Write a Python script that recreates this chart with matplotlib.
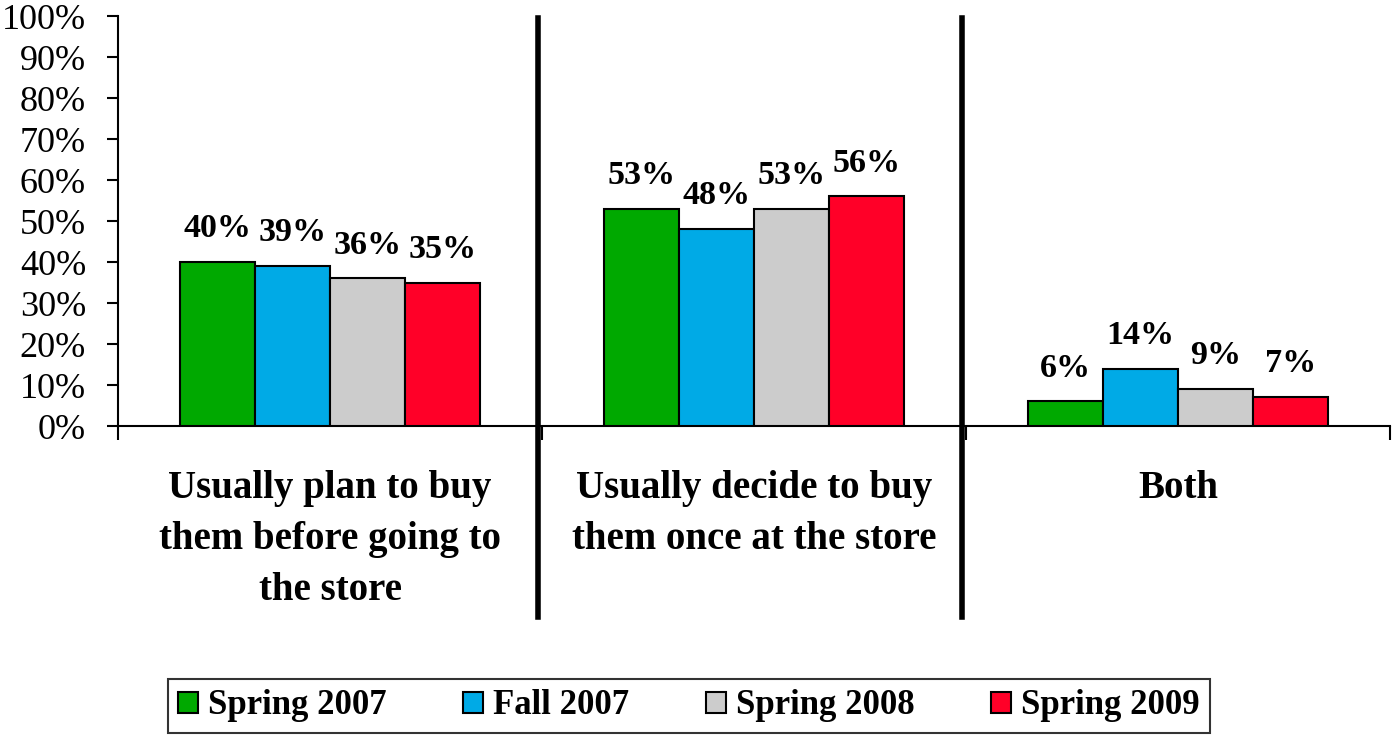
import numpy as np
import matplotlib
matplotlib.use("Agg")
import matplotlib.pyplot as plt
from matplotlib.lines import Line2D

plt.rcParams['font.family'] = ['Liberation Serif', 'DejaVu Serif']

categories = ["Usually plan to buy\nthem before going to\nthe store",
              "Usually decide to buy\nthem once at the store",
              "Both"]
series_names = ["Spring 2007", "Fall 2007", "Spring 2008", "Spring 2009"]
spring_2007 = [40, 53, 6]
fall_2007 = [39, 48, 14]
spring_2008 = [36, 53, 9]
spring_2009 = [35, 56, 7]
colors = ["#00A900", "#00AAE6", "#CCCCCC", "#FF0028"]
y_ticks = [0, 10, 20, 30, 40, 50, 60, 70, 80, 90, 100]

series = [spring_2007, fall_2007, spring_2008, spring_2009]

fig = plt.figure(figsize=(13.93, 7.35), dpi=100)
ax = fig.add_axes([0.0847, 0.4204, 0.9133, 0.5578])

x = np.arange(len(categories))
bw = 0.177
for i, (vals, col, name) in enumerate(zip(series, colors, series_names)):
    pos = x + (i - 1.5) * bw
    bars = ax.bar(pos, vals, bw, color=col, edgecolor='black', linewidth=1.5,
                  label=name, zorder=3)
    for b, v in zip(bars, vals):
        ax.annotate(f"{v}%", (b.get_x() + b.get_width() / 2, v),
                    xytext=(0, 24), textcoords='offset points',
                    ha='center', va='center', fontsize=24.5, fontweight='bold')

ax.set_xlim(-0.5, 2.5)
ax.set_ylim(0, 100)
ax.set_yticks(y_ticks)
ax.set_yticklabels([f"{t}%" for t in y_ticks], fontsize=26)
ax.tick_params(axis='y', direction='out', length=8, width=1.5, pad=15)

# boundaries carry the tick marks, centres carry the labels
ax.set_xticks([-0.5, 0.5, 1.5, 2.5])
ax.set_xticklabels([])
ax.tick_params(axis='x', which='major', direction='out', length=10, width=1.5)
ax.set_xticks(x, minor=True)
ax.set_xticklabels(categories, minor=True, fontsize=28, fontweight='bold',
                   linespacing=1.5)
ax.tick_params(axis='x', which='minor', length=0, pad=32)

for s in ['top', 'right']:
    ax.spines[s].set_visible(False)
for s in ['left', 'bottom']:
    ax.spines[s].set_linewidth(1.5)

# thick separators between groups
for sx in [0.49, 1.49]:
    ax.add_line(Line2D([sx, sx], [99.5, -46.6], color='black', linewidth=4,
                       clip_on=False, zorder=4))

leg = fig.legend(loc='center', bbox_to_anchor=(0.4946, 0.0395), ncol=4,
                 prop={'size': 25, 'weight': 'bold'}, frameon=True,
                 fancybox=False, edgecolor='black', handlelength=0.57,
                 handleheight=0.57, handletextpad=0.3, columnspacing=2.2,
                 borderpad=0.3)
leg.get_frame().set_linewidth(1.5)

fig.savefig("out.png", dpi=100)
